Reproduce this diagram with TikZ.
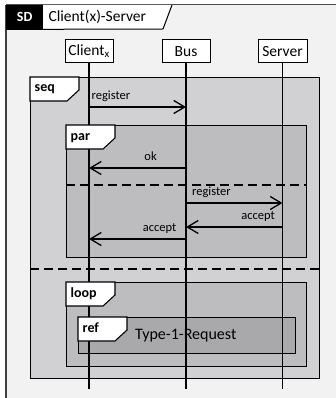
\documentclass[tikz,border=0pt]{standalone}
\usepackage{fontspec}
\setmainfont{Carlito}
\usetikzlibrary{arrows.meta, positioning}
\definecolor{bgGray}{HTML}{F2F2F2}
\definecolor{seqGray}{HTML}{D1D1D3}
\definecolor{parGray}{HTML}{BDBDC0}
\definecolor{refGray}{HTML}{A9A9AB}

\begin{document}
\begin{tikzpicture}[x=1pt, y=-1pt,
    lifehead/.style={draw=black, line width=1pt, fill=white, minimum width=48pt, minimum height=23pt, inner sep=0pt, font=\fontsize{15.5}{18}\selectfont},
    frag/.style={draw=black, line width=1.2pt, anchor=north west, inner sep=0pt},
    tagbox/.style={draw=black, line width=1.1pt, fill=white},
    tagtext/.style={font=\fontsize{14}{16}\selectfont\bfseries, inner sep=0pt, anchor=base west},
    lifeline/.style={line width=1.3pt},
    msg/.style={line width=1.3pt, -{Straight Barb[length=11pt, width=13pt]}},
    msglabel/.style={font=\fontsize{12.5}{14}\selectfont, inner sep=0pt, yshift=7.5pt},
    divider/.style={line width=1.3pt, dash pattern=on 9pt off 5pt}
]
\useasboundingbox (0,0) rectangle (336,398);

% Diagram frame
\fill[bgGray] (6,5) rectangle (336,398);
\draw[line width=1pt, black!70] (6,5) -- (336,5);
\draw[line width=2pt, black!75] (6,5) -- (6,398);
\node[fill=black, text=white, font=\fontsize{14}{16}\selectfont\bfseries, minimum width=37pt, minimum height=24pt, inner sep=0pt, anchor=north west] (sd) at (6,5) {SD};
\fill[white] (sd.north east) -- (172,5) -- (163,29) -- (sd.south east) -- cycle;
\draw[line width=1pt] (sd.south west) -- (163,29) -- (172,5);
\node[right=5pt of sd.east, anchor=west, inner sep=0pt, font=\fontsize{15.5}{18}\selectfont] (title) {Client(x)-Server};

% Fragments
\node[frag, fill=seqGray, minimum width=289pt, minimum height=301pt] (seq) at (30,77) {};
\node[frag, fill=parGray, minimum width=240pt, minimum height=132pt] (par) at (66,125) {};
\node[frag, fill=parGray, minimum width=240pt, minimum height=84pt] (loop) at (66,282) {};
\node[frag, fill=refGray, minimum width=217pt, minimum height=36pt] (ref) at (78,317) {};
\draw[divider] (seq.west |- 0,269) -- (seq.east |- 0,269);
\draw[divider] (par.west |- 0,185) -- (par.east |- 0,185);

% Lifelines
\node[lifehead] (client) at (89,51.5) {Client\textsubscript{x}};
\node[lifehead, right=48pt of client] (bus) {Bus};
\node[lifehead, right=47pt of bus, minimum width=49pt] (server) {Server};
\foreach \l in {client, bus, server}
    \draw[lifeline] (\l) -- (\l |- 0,389);

% Fragment tags
\foreach \f in {seq, par, loop, ref} {
    \draw[tagbox] (\f.north west) -- ++(49,0) -- ++(0,13) -- ++(-12,11) -- ++(-37,0) -- cycle;
    \node[tagtext] at ([shift={(4.5,15)}]\f.north west) {\f};
}
\node[right=57pt of ref.west, anchor=west, inner sep=0pt, font=\fontsize{16}{19}\selectfont] (reftext) {Type-1-Request};

% Messages
\draw[msg] (client |- 0,107) -- node[msglabel, pos=0, anchor=base west, xshift=2pt] {register} (bus |- 0,107);
\draw[msg] (bus |- 0,168) -- node[msglabel, pos=0.365, anchor=base] {ok} (client |- 0,168);
\draw[msg] (bus |- 0,203) -- node[msglabel, pos=0, anchor=base west, xshift=5.5pt] {register} (server |- 0,203);
\draw[msg] (server |- 0,227) -- node[msglabel, pos=0, anchor=base east, xshift=-7pt] {accept} (bus |- 0,227);
\draw[msg] (bus |- 0,239) -- node[msglabel, pos=0, anchor=base east, xshift=-9pt] {accept} (client |- 0,239);
\end{tikzpicture}
\end{document}
